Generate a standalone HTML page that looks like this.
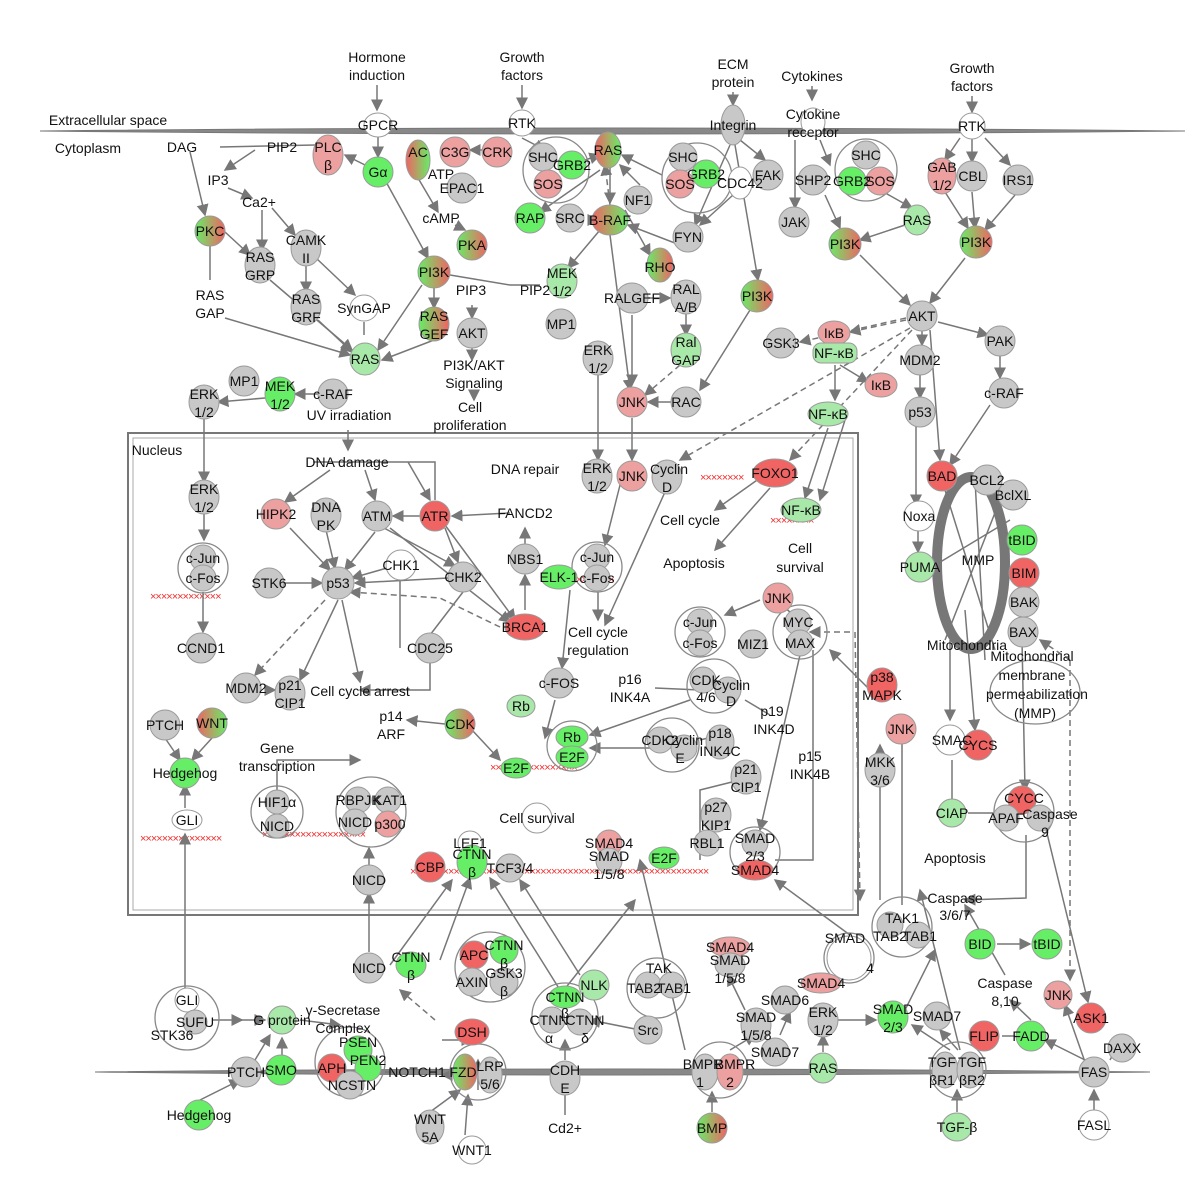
<!DOCTYPE html>
<html><head><meta charset="utf-8"><style>
html,body{margin:0;padding:0;background:#fff}
svg{display:block}
text{font-family:"Liberation Sans",sans-serif;font-size:14px;text-anchor:middle;fill:#111}
text.xx{fill:#f03030;font-size:11px;text-anchor:start;letter-spacing:-1px}
.g{fill:#c8c8c8;stroke:#9a9a9a;stroke-width:1}
.gr{fill:#66ee66;stroke:#9a9a9a}
.lg{fill:#a8e8a8;stroke:#9a9a9a}
.r{fill:#f06464;stroke:#9a9a9a}
.p{fill:#eda0a0;stroke:#9a9a9a}
.w{fill:#fff;stroke:#9a9a9a}
.gd{fill:url(#grd);stroke:#9a9a9a}
.rd{fill:url(#rdg);stroke:#9a9a9a}
.c{fill:none;stroke:#888;stroke-width:1.3}
.l{stroke:#777;stroke-width:1.5;fill:none;marker-end:url(#a)}
.d{stroke:#777;stroke-width:1.5;fill:none;stroke-dasharray:6 4;marker-end:url(#a)}
.t{stroke:#777;stroke-width:1.5;fill:none}
</style></head><body>
<svg width="1200" height="1200" viewBox="0 0 1200 1200" xmlns="http://www.w3.org/2000/svg">
<defs>
<linearGradient id="grd" x1="0" x2="1"><stop offset="0" stop-color="#66ee66"/><stop offset="1" stop-color="#f06464"/></linearGradient>
<linearGradient id="rdg" x1="0" x2="1"><stop offset="0" stop-color="#f06464"/><stop offset="1" stop-color="#66ee66"/></linearGradient>
<marker id="a" markerWidth="8" markerHeight="8" refX="7" refY="4" orient="auto"><path d="M0,0L8,4L0,8z" fill="#777"/></marker>
</defs>
<rect width="1200" height="1200" fill="#fff"/>
<path d="M40,131 Q600,125 1185,131 Q600,137 40,131Z" fill="#888" stroke="#777" stroke-width="1"/>
<path d="M95,1072 Q600,1066 1150,1072 Q600,1078 95,1072Z" fill="#888" stroke="#777"/>
<rect x="128" y="433" width="730" height="482" fill="none" stroke="#777" stroke-width="2"/>
<rect x="133" y="438" width="720" height="472" fill="none" stroke="#aaa" stroke-width="1"/>
<text x="108" y="125">Extracellular space</text>
<text x="88" y="153">Cytoplasm</text>
<text x="157" y="455">Nucleus</text>
<!-- red x lines -->
<text class="xx" x="150" y="600">×××××××××××××</text>
<text class="xx" x="140" y="842">×××××××××××××××</text>
<text class="xx" x="262" y="838">×××××××××××××××××××</text>
<text class="xx" x="490" y="771">××××××××××××××××</text>
<text class="xx" x="410" y="875">×××××××××××××××××××××××××××××××××××××××××××××××××××××××</text>
<text class="xx" x="700" y="481">××××××××</text>
<text class="xx" x="770" y="524">××××××××</text>
<text class="xx" x="565" y="583">×××××××××</text>
<g>
<path class="l" d="M377,85 V110"/><path class="l" d="M522,85 V108"/><path class="l" d="M733,92 V105"/><path class="l" d="M812,86 V100"/><path class="l" d="M972,96 V112"/>
<path class="l" d="M378,136 V157"/><path class="l" d="M365,165 L345,155"/><path class="t" d="M315,145 L220,147"/><path class="l" d="M190,152 L205,215"/>
<path class="l" d="M255,150 L225,170"/><path class="l" d="M228,188 L252,198"/><path class="l" d="M262,210 L262,250"/><path class="l" d="M272,208 L295,235"/>
<path class="l" d="M225,232 L250,255"/><path class="t" d="M210,245 V280"/><path class="l" d="M306,262 V292"/><path class="l" d="M316,258 L355,295"/>
<path class="l" d="M225,318 L350,355"/><path class="l" d="M270,280 L352,350"/><path class="l" d="M318,320 L352,352"/><path class="t" d="M364,322 V335"/>
<path class="l" d="M385,180 L428,258"/><path class="l" d="M422,285 L378,350"/><path class="l" d="M434,340 L382,360"/><path class="l" d="M434,288 V308"/>
<path class="l" d="M472,305 V318"/><path class="l" d="M472,348 V360"/><path class="l" d="M474,392 V400"/><path class="t" d="M450,275 L510,285 L540,285"/>
<path class="l" d="M418,178 L438,212"/><path class="l" d="M455,225 L465,230"/><path class="l" d="M483,150 L470,150"/><path class="l" d="M522,138 L545,150"/>
<path class="l" d="M585,160 L600,155"/><path class="l" d="M600,170 L540,212"/><path class="l" d="M610,165 L610,203"/><path class="d" d="M610,205 L605,165"/>
<path class="l" d="M590,220 L598,220"/><path class="l" d="M610,235 L630,390"/><path class="l" d="M600,230 L568,268"/><path class="l" d="M625,210 L650,255"/>
<path class="l" d="M662,175 L622,155"/><path class="l" d="M730,145 L695,225"/><path class="l" d="M735,145 L758,280"/><path class="l" d="M740,140 L765,160"/>
<path class="l" d="M680,245 L628,225"/><path class="l" d="M640,185 L620,165"/><path class="l" d="M733,195 L700,225"/>
<path class="l" d="M795,140 L795,208"/><path class="l" d="M820,140 L830,165"/><path class="l" d="M825,195 L840,228"/><path class="l" d="M880,190 L912,208"/><path class="l" d="M905,225 L860,240"/>
<path class="l" d="M960,138 L945,160"/><path class="l" d="M972,138 L972,162"/><path class="l" d="M985,138 L1010,165"/><path class="l" d="M945,192 L968,228"/><path class="l" d="M972,192 L975,228"/><path class="l" d="M1015,195 L985,230"/>
<path class="l" d="M860,255 L910,305"/><path class="l" d="M965,258 L930,303"/><path class="l" d="M750,310 L700,390"/><path class="l" d="M632,315 V385"/><path class="l" d="M648,298 L670,298"/>
<path class="l" d="M686,312 V335"/><path class="d" d="M680,365 L645,395"/><path class="l" d="M672,402 L648,402"/><path class="l" d="M598,372 V460"/><path class="l" d="M632,418 V460"/>
<path class="d" d="M906,318 L800,342"/><path class="d" d="M906,320 L850,332"/><path class="d" d="M910,328 L680,460"/><path class="d" d="M912,330 L790,460"/>
<path class="l" d="M922,330 V345"/><path class="l" d="M938,322 L988,335"/><path class="l" d="M1000,356 V378"/><path class="l" d="M990,405 L950,465"/><path class="l" d="M930,330 L940,460"/>
<path class="l" d="M920,375 V398"/><path class="l" d="M835,365 V400"/><path class="l" d="M840,365 L868,382"/><path class="l" d="M828,428 L805,498"/><path class="l" d="M845,420 L820,500"/>
<path class="l" d="M916,425 L916,505"/><path class="l" d="M918,528 V552"/>
<path class="l" d="M318,394 L295,394"/><path class="l" d="M265,398 L218,402"/><path class="l" d="M204,418 V482"/><path class="l" d="M204,512 V540"/><path class="l" d="M203,592 V632"/><path class="l" d="M348,430 V450"/>
<path class="l" d="M330,470 L285,502"/><path class="l" d="M365,470 L375,500"/><path class="l" d="M408,462 L430,500"/><path class="t" d="M313,462 L435,462 V500"/>
<path class="l" d="M290,528 L330,570"/><path class="l" d="M326,530 L335,568"/><path class="l" d="M375,532 L345,570"/><path class="l" d="M420,516 L393,516"/><path class="l" d="M510,513 L452,516"/>
<path class="l" d="M384,528 L455,566"/><path class="l" d="M445,528 L458,562"/><path class="l" d="M445,525 L515,620"/><path class="l" d="M390,528 L510,622"/>
<path class="l" d="M285,583 L322,583"/><path class="l" d="M387,568 L352,578"/><path class="l" d="M448,578 L355,583"/><path class="d" d="M500,627 L440,598 L350,592"/><path class="l" d="M525,610 V575"/><path class="l" d="M525,545 V528"/>
<path class="t" d="M400,580 L400,648"/><path class="t" d="M463,592 L430,635"/><path class="l" d="M430,662 L430,690 L360,690"/>
<path class="l" d="M338,600 L300,680"/><path class="l" d="M342,600 L360,682"/><path class="d" d="M325,600 L255,675"/><path class="l" d="M265,690 L275,690"/>
<path class="l" d="M598,592 V620"/><path class="l" d="M570,590 L562,668"/><path class="l" d="M620,485 L605,545"/><path class="l" d="M665,492 L605,625"/>
<path class="l" d="M760,478 L715,510"/><path class="l" d="M770,488 L715,550"/><path class="l" d="M760,600 L725,615"/><path class="l" d="M785,608 L800,620"/>
<path class="l" d="M445,724 L407,720"/><path class="l" d="M472,730 L500,760"/><path class="l" d="M690,700 L590,735"/><path class="l" d="M658,748 L590,748"/><path class="l" d="M555,700 L545,738"/>
<path class="t" d="M655,688 L700,690"/><path class="t" d="M720,735 L700,740"/><path class="t" d="M740,780 L700,790 L700,860"/><path class="t" d="M770,715 L745,700"/>
<path class="d" d="M850,632 L810,632"/><path class="d" d="M855,632 L860,900"/><path class="l" d="M800,655 L760,830"/><path class="t" d="M813,650 V860 L775,860"/>
<path class="l" d="M880,700 L830,650"/><path class="l" d="M880,755 V745"/><path class="l" d="M902,745 L900,715"/><path class="t" d="M880,785 V900"/><path class="t" d="M902,745 V905"/>
<path class="l" d="M965,610 L975,730"/><path class="l" d="M950,640 V720"/><path class="l" d="M1022,640 L1025,790"/><path class="t" d="M952,760 V800"/><path class="t" d="M968,813 L1000,813"/>
<path class="l" d="M1026,835 V898 L965,900"/><path class="l" d="M1045,825 L1088,1002"/><path class="d" d="M1070,660 V980"/><path class="d" d="M1070,660 L1040,640"/>
<path class="l" d="M185,808 V785"/><path class="l" d="M185,1000 V834"/><path class="l" d="M165,738 L180,760"/><path class="l" d="M212,738 L192,760"/>
<path class="l" d="M277,790 V760 L360,760"/><path class="l" d="M369,865 V848"/><path class="l" d="M369,952 V893"/><path class="l" d="M390,965 L452,880"/><path class="l" d="M440,960 L470,878"/>
<path class="l" d="M560,990 L490,878"/><path class="l" d="M580,975 L520,880"/><path class="l" d="M685,1050 L640,860"/><path class="l" d="M850,935 L775,880"/>
<path class="l" d="M560,995 L635,900"/><path class="d" d="M435,1020 L400,990"/><path class="l" d="M442,1040 L472,1040"/><path class="l" d="M478,1090 V1060"/><path class="l" d="M452,1075 L442,1075"/>
<path class="l" d="M640,1030 L590,1020"/><path class="l" d="M565,1060 V1040"/><path class="t" d="M565,1115 V1095"/><path class="l" d="M712,1112 V1092"/>
<path class="l" d="M730,1050 L755,1035"/><path class="l" d="M780,1035 L790,1012"/><path class="l" d="M745,1010 L728,975"/><path class="l" d="M823,1052 V1035"/><path class="l" d="M838,1020 L876,1020"/>
<path class="l" d="M905,1010 L935,950"/><path class="l" d="M950,1050 L912,1025"/><path class="l" d="M958,1050 L940,1030"/><path class="l" d="M957,1112 V1090"/><path class="l" d="M960,1050 L920,890"/>
<path class="l" d="M997,944 L1030,944"/><path class="l" d="M1005,975 L965,905"/><path class="l" d="M1031,1020 L1010,1000"/><path class="l" d="M1094,1110 V1090"/><path class="l" d="M1085,1060 L1045,1040"/>
<path class="l" d="M1085,1062 L1065,1005"/><path class="l" d="M1110,1060 L1118,1045"/><path class="t" d="M1002,1036 L1015,1036"/><path class="l" d="M240,1020 L265,1020"/><path class="l" d="M300,1020 L340,1025"/>
<path class="l" d="M282,1055 V1038"/><path class="l" d="M255,1060 L270,1035"/><path class="l" d="M212,1020 L242,1020"/><path class="l" d="M200,1100 L240,1080"/>
<path class="t" d="M385,1072 L395,1072"/><path class="l" d="M465,1135 L468,1095"/><path class="l" d="M430,1112 L460,1090"/>
</g>
<ellipse cx="971" cy="563" rx="34" ry="86" fill="none" stroke="#777" stroke-width="10"/>
<path class="t" d="M945,490 L995,650 M1000,500 L945,640 M932,567 L1010,520 M985,660 L975,480"/>
<g class="c">
<circle cx="556" cy="170" r="33"/><circle cx="697" cy="178" r="35"/><circle cx="866" cy="170" r="31"/>
<circle cx="203" cy="568" r="25"/><circle cx="597" cy="567" r="25"/><circle cx="700" cy="632" r="25"/><circle cx="800" cy="632" r="27"/>
<circle cx="714" cy="686" r="27"/><circle cx="572" cy="746" r="25"/><circle cx="672" cy="745" r="27"/>
<circle cx="277" cy="812" r="26"/><circle cx="371" cy="812" r="35"/><circle cx="755" cy="852" r="25"/><circle cx="1024" cy="812" r="30"/>
<circle cx="902" cy="927" r="30"/><circle cx="849" cy="958" r="25"/><circle cx="490" cy="967" r="35"/><circle cx="657" cy="988" r="30"/>
<circle cx="187" cy="1018" r="32"/><circle cx="350" cy="1062" r="35"/><circle cx="478" cy="1072" r="28"/><circle cx="565" cy="1016" r="33"/>
<circle cx="720" cy="1070" r="28"/><circle cx="958" cy="1070" r="28"/><ellipse cx="1035" cy="692" rx="45" ry="32"/>
</g>
<g>
<ellipse class="w" cx="378" cy="125" rx="14" ry="12"/><ellipse class="w" cx="522" cy="123" rx="13" ry="13"/><ellipse class="g" cx="733" cy="125" rx="12" ry="20"/>
<ellipse class="w" cx="813" cy="122" rx="12" ry="14"/><ellipse class="w" cx="972" cy="126" rx="13" ry="13"/>
<ellipse class="p" cx="328" cy="155" rx="15" ry="20"/><circle class="gr" cx="378" cy="172" r="15"/><ellipse class="rd" cx="418" cy="160" rx="12" ry="20"/>
<circle class="p" cx="455" cy="152" r="15"/><circle class="p" cx="497" cy="152" r="15"/><circle class="g" cx="462" cy="188" r="15"/>
<circle class="g" cx="543" cy="157" r="14"/><circle class="gr" cx="572" cy="165" r="14"/><circle class="p" cx="548" cy="184" r="14"/>
<ellipse class="rd" cx="608" cy="150" rx="13" ry="18"/>
<circle class="g" cx="683" cy="157" r="14"/><circle class="gr" cx="706" cy="174" r="14"/><circle class="p" cx="680" cy="184" r="14"/>
<ellipse class="w" cx="740" cy="183" rx="12" ry="16"/><circle class="g" cx="768" cy="175" r="15"/><circle class="g" cx="813" cy="180" r="15"/>
<circle class="g" cx="866" cy="155" r="14"/><circle class="gr" cx="852" cy="181" r="14"/><circle class="p" cx="880" cy="181" r="14"/>
<ellipse class="p" cx="942" cy="176" rx="14" ry="18"/><circle class="g" cx="972" cy="176" r="15"/><circle class="g" cx="1018" cy="180" r="15"/>
<circle class="gd" cx="210" cy="231" r="15"/><ellipse class="g" cx="306" cy="248" rx="15" ry="18"/><ellipse class="g" cx="260" cy="265" rx="15" ry="18"/>
<ellipse class="g" cx="306" cy="307" rx="15" ry="18"/><ellipse class="w" cx="364" cy="308" rx="14" ry="13"/>
<circle class="gr" cx="530" cy="218" r="15"/><circle class="g" cx="570" cy="218" r="14"/><ellipse class="rd" cx="610" cy="220" rx="18" ry="15"/>
<circle class="g" cx="638" cy="200" r="14"/><circle class="g" cx="688" cy="237" r="15"/><ellipse class="gd" cx="660" cy="265" rx="13" ry="17"/><circle class="gd" cx="472" cy="245" r="15"/>
<circle class="g" cx="794" cy="222" r="15"/><circle class="gd" cx="845" cy="244" r="16"/><ellipse class="lg" cx="917" cy="220" rx="13" ry="15"/><circle class="gd" cx="976" cy="242" r="16"/>
<circle class="gd" cx="434" cy="272" r="16"/><ellipse class="lg" cx="562" cy="281" rx="15" ry="17"/><circle class="g" cx="561" cy="324" r="15"/>
<ellipse class="g" cx="632" cy="298" rx="16" ry="15"/><ellipse class="g" cx="686" cy="297" rx="15" ry="17"/><circle class="gd" cx="757" cy="296" r="16"/>
<circle class="g" cx="472" cy="333" r="15"/><ellipse class="gd" cx="434" cy="324" rx="15" ry="17"/><ellipse class="lg" cx="365" cy="359" rx="15" ry="16"/>
<ellipse class="g" cx="598" cy="358" rx="15" ry="17"/><ellipse class="lg" cx="686" cy="350" rx="15" ry="17"/><circle class="p" cx="632" cy="402" r="15"/><circle class="g" cx="686" cy="402" r="15"/>
<circle class="g" cx="781" cy="343" r="15"/><ellipse class="p" cx="834" cy="333" rx="16" ry="12"/><rect class="lg" x="813" y="343" width="44" height="20" rx="8"/>
<circle class="g" cx="922" cy="316" r="15"/><circle class="g" cx="920" cy="360" r="15"/><circle class="g" cx="1000" cy="341" r="15"/>
<ellipse class="p" cx="881" cy="385" rx="16" ry="12"/><ellipse class="lg" cx="828" cy="414" rx="20" ry="12"/><circle class="g" cx="920" cy="412" r="15"/><circle class="g" cx="1004" cy="393" r="15"/>
<circle class="g" cx="244" cy="381" r="15"/><ellipse class="gr" cx="280" cy="394" rx="15" ry="17"/><circle class="g" cx="333" cy="394" r="15"/><ellipse class="g" cx="204" cy="402" rx="15" ry="17"/>
<ellipse class="g" cx="204" cy="497" rx="15" ry="17"/><ellipse class="g" cx="326" cy="515" rx="15" ry="17"/><circle class="g" cx="377" cy="516" r="15"/><circle class="r" cx="435" cy="516" r="15"/>
<circle class="p" cx="276" cy="514" r="15"/><ellipse class="g" cx="597" cy="476" rx="15" ry="17"/><circle class="p" cx="632" cy="476" r="15"/><ellipse class="g" cx="667" cy="477" rx="15" ry="17"/>
<ellipse class="r" cx="775" cy="473" rx="22" ry="14"/><ellipse class="lg" cx="801" cy="510" rx="20" ry="12"/>
<circle class="g" cx="203" cy="558" r="13"/><circle class="g" cx="203" cy="578" r="13"/><circle class="g" cx="269" cy="583" r="15"/><circle class="g" cx="338" cy="583" r="16"/>
<circle class="w" cx="401" cy="565" r="15"/><circle class="g" cx="463" cy="577" r="15"/><circle class="g" cx="525" cy="559" r="15"/><ellipse class="gr" cx="559" cy="577" rx="18" ry="12"/>
<circle class="g" cx="597" cy="557" r="13"/><circle class="g" cx="597" cy="578" r="13"/>
<circle class="r" cx="942" cy="476" r="15"/><circle class="g" cx="987" cy="480" r="15"/><circle class="g" cx="1013" cy="495" r="15"/><circle class="w" cx="919" cy="516" r="15"/>
<circle class="gr" cx="1022" cy="540" r="15"/><circle class="lg" cx="920" cy="567" r="15"/><circle class="r" cx="1024" cy="573" r="15"/><circle class="g" cx="1024" cy="602" r="15"/><circle class="g" cx="1023" cy="632" r="15"/>
<circle class="g" cx="201" cy="648" r="15"/><ellipse class="r" cx="525" cy="627" rx="20" ry="13"/><circle class="g" cx="430" cy="648" r="15"/>
<circle class="p" cx="778" cy="598" r="15"/><circle class="g" cx="700" cy="622" r="13"/><circle class="g" cx="700" cy="643" r="13"/><circle class="g" cx="798" cy="622" r="13"/><circle class="g" cx="800" cy="643" r="13"/><circle class="g" cx="753" cy="644" r="14"/>
<circle class="g" cx="246" cy="688" r="15"/><ellipse class="g" cx="290" cy="693" rx="15" ry="17"/><circle class="g" cx="559" cy="683" r="15"/>
<circle class="g" cx="703" cy="680" r="13"/><circle class="g" cx="728" cy="690" r="13"/><ellipse class="r" cx="882" cy="685" rx="15" ry="17"/>
<circle class="g" cx="165" cy="725" r="15"/><circle class="rd" cx="212" cy="723" r="15"/><circle class="gd" cx="460" cy="724" r="15"/><ellipse class="lg" cx="521" cy="706" rx="14" ry="11"/>
<ellipse class="gr" cx="572" cy="737" rx="16" ry="11"/><ellipse class="gr" cx="572" cy="757" rx="16" ry="11"/><circle class="g" cx="660" cy="740" r="13"/><circle class="g" cx="684" cy="748" r="13"/>
<ellipse class="g" cx="720" cy="742" rx="14" ry="17"/><circle class="p" cx="901" cy="729" r="15"/><circle class="r" cx="978" cy="745" r="15"/><circle class="w" cx="950" cy="740" r="15"/>
<circle class="gr" cx="185" cy="773" r="15"/><ellipse class="gr" cx="516" cy="768" rx="15" ry="10"/><ellipse class="g" cx="746" cy="777" rx="15" ry="17"/><ellipse class="g" cx="880" cy="770" rx="15" ry="17"/>
<ellipse class="w" cx="187" cy="820" rx="15" ry="10"/><circle class="g" cx="277" cy="802" r="12"/><circle class="g" cx="277" cy="826" r="12"/>
<circle class="g" cx="358" cy="800" r="13"/><circle class="g" cx="388" cy="800" r="13"/><circle class="g" cx="355" cy="822" r="13"/><circle class="p" cx="388" cy="824" r="13"/>
<circle class="w" cx="537" cy="818" r="15"/><circle class="p" cx="609" cy="843" r="13"/><circle class="g" cx="609" cy="861" r="13"/><circle class="w" cx="470" cy="843" r="12"/>
<circle class="lg" cx="952" cy="813" r="14"/><circle class="r" cx="1022" cy="800" r="14"/><circle class="g" cx="1006" cy="818" r="13"/><circle class="g" cx="1040" cy="818" r="13"/>
<ellipse class="g" cx="716" cy="815" rx="15" ry="17"/><circle class="g" cx="707" cy="843" r="13"/><circle class="g" cx="755" cy="843" r="13"/><ellipse class="r" cx="755" cy="870" rx="18" ry="10"/>
<ellipse class="gr" cx="664" cy="858" rx="15" ry="11"/><circle class="r" cx="430" cy="867" r="15"/><ellipse class="gr" cx="472" cy="862" rx="15" ry="17"/><circle class="g" cx="510" cy="868" r="14"/><circle class="g" cx="369" cy="880" r="15"/>
<circle class="g" cx="890" cy="925" r="13"/><circle class="g" cx="918" cy="935" r="13"/><circle class="g" cx="369" cy="968" r="15"/><ellipse class="gr" cx="411" cy="965" rx="15" ry="13"/>
<circle class="r" cx="474" cy="955" r="14"/><circle class="gr" cx="504" cy="950" r="14"/><circle class="g" cx="472" cy="982" r="14"/><circle class="g" cx="504" cy="982" r="14"/>
<circle class="lg" cx="594" cy="985" r="15"/><circle class="g" cx="648" cy="985" r="13"/><circle class="g" cx="672" cy="985" r="13"/>
<ellipse class="p" cx="730" cy="947" rx="20" ry="10"/><ellipse class="g" cx="730" cy="965" rx="15" ry="12"/><ellipse class="p" cx="821" cy="983" rx="20" ry="10"/>
<ellipse class="g" cx="823" cy="1020" rx="15" ry="17"/><circle class="g" cx="785" cy="1000" r="14"/><ellipse class="g" cx="756" cy="1025" rx="15" ry="17"/><circle class="g" cx="775" cy="1052" r="14"/>
<ellipse class="gr" cx="893" cy="1017" rx="15" ry="16"/><circle class="g" cx="937" cy="1016" r="14"/><circle class="gr" cx="980" cy="944" r="15"/><circle class="gr" cx="1047" cy="944" r="15"/>
<circle class="p" cx="1058" cy="995" r="14"/><circle class="r" cx="1091" cy="1018" r="15"/><circle class="r" cx="984" cy="1036" r="15"/><circle class="gr" cx="1031" cy="1036" r="15"/>
<circle class="g" cx="1122" cy="1048" r="14"/><circle class="g" cx="1094" cy="1072" r="15"/><circle class="w" cx="1094" cy="1125" r="15"/>
<circle class="w" cx="187" cy="1000" r="12"/><circle class="g" cx="195" cy="1022" r="12"/><circle class="lg" cx="282" cy="1020" r="14"/>
<circle class="gr" cx="358" cy="1050" r="14"/><circle class="r" cx="332" cy="1068" r="14"/><circle class="gr" cx="368" cy="1068" r="13"/><circle class="g" cx="350" cy="1085" r="14"/>
<ellipse class="r" cx="472" cy="1032" rx="17" ry="13"/><ellipse class="gd" cx="465" cy="1072" rx="12" ry="18"/><ellipse class="g" cx="490" cy="1075" rx="12" ry="18"/>
<ellipse class="gr" cx="565" cy="997" rx="16" ry="11"/><circle class="g" cx="552" cy="1020" r="13"/><circle class="g" cx="580" cy="1022" r="13"/><circle class="g" cx="648" cy="1030" r="14"/>
<ellipse class="g" cx="565" cy="1078" rx="15" ry="17"/><ellipse class="g" cx="705" cy="1072" rx="13" ry="18"/><ellipse class="p" cx="730" cy="1072" rx="13" ry="18"/>
<ellipse class="lg" cx="823" cy="1068" rx="14" ry="15"/><ellipse class="g" cx="945" cy="1070" rx="13" ry="18"/><ellipse class="g" cx="970" cy="1070" rx="13" ry="18"/>
<ellipse class="lg" cx="957" cy="1127" rx="15" ry="14"/><circle class="gd" cx="712" cy="1128" r="15"/><circle class="g" cx="246" cy="1072" r="15"/><circle class="gr" cx="281" cy="1070" r="15"/>
<circle class="gr" cx="199" cy="1115" r="15"/><ellipse class="g" cx="430" cy="1127" rx="14" ry="17"/><circle class="w" cx="472" cy="1150" r="14"/><circle class="w" cx="849" cy="958" r="22"/>
</g>
<g>
<text x="377" y="62">Hormone</text><text x="377" y="80">induction</text><text x="522" y="62">Growth</text><text x="522" y="80">factors</text>
<text x="733" y="69">ECM</text><text x="733" y="87">protein</text><text x="812" y="81">Cytokines</text><text x="813" y="119">Cytokine</text><text x="813" y="137">receptor</text>
<text x="972" y="73">Growth</text><text x="972" y="91">factors</text><text x="378" y="130">GPCR</text><text x="522" y="128">RTK</text><text x="733" y="130">Integrin</text><text x="972" y="131">RTK</text>
<text x="182" y="152">DAG</text><text x="282" y="152">PIP2</text><text x="328" y="152">PLC</text><text x="328" y="170">β</text><text x="378" y="177">Gα</text><text x="418" y="157">AC</text>
<text x="455" y="157">C3G</text><text x="497" y="157">CRK</text><text x="441" y="179">ATP</text><text x="462" y="193">EPAC1</text><text x="441" y="223">cAMP</text>
<text x="543" y="162">SHC</text><text x="572" y="170">GRB2</text><text x="548" y="189">SOS</text><text x="608" y="155">RAS</text>
<text x="683" y="162">SHC</text><text x="706" y="179">GRB2</text><text x="680" y="189">SOS</text><text x="740" y="188">CDC42</text><text x="768" y="180">FAK</text>
<text x="813" y="185">SHP2</text><text x="866" y="160">SHC</text><text x="852" y="186">GRB2</text><text x="880" y="186">SOS</text>
<text x="942" y="172">GAB</text><text x="942" y="190">1/2</text><text x="972" y="181">CBL</text><text x="1018" y="185">IRS1</text>
<text x="218" y="185">IP3</text><text x="259" y="207">Ca2+</text><text x="210" y="236">PKC</text><text x="306" y="245">CAMK</text><text x="306" y="263">II</text>
<text x="260" y="262">RAS</text><text x="260" y="280">GRP</text><text x="306" y="304">RAS</text><text x="306" y="322">GRF</text><text x="364" y="313">SynGAP</text><text x="210" y="300">RAS</text><text x="210" y="318">GAP</text>
<text x="530" y="223">RAP</text><text x="570" y="223">SRC</text><text x="610" y="225">B-RAF</text><text x="638" y="205">NF1</text><text x="688" y="242">FYN</text><text x="660" y="272">RHO</text><text x="472" y="250">PKA</text>
<text x="794" y="227">JAK</text><text x="845" y="249">PI3K</text><text x="917" y="225">RAS</text><text x="976" y="247">PI3K</text>
<text x="434" y="277">PI3K</text><text x="562" y="278">MEK</text><text x="562" y="296">1/2</text><text x="471" y="295">PIP3</text><text x="535" y="295">PIP2</text><text x="561" y="329">MP1</text>
<text x="632" y="303">RALGEF</text><text x="686" y="294">RAL</text><text x="686" y="312">A/B</text><text x="757" y="301">PI3K</text>
<text x="472" y="338">AKT</text><text x="434" y="321">RAS</text><text x="434" y="339">GEF</text><text x="365" y="364">RAS</text><text x="474" y="370">PI3K/AKT</text><text x="474" y="388">Signaling</text>
<text x="470" y="412">Cell</text><text x="470" y="430">proliferation</text><text x="598" y="355">ERK</text><text x="598" y="373">1/2</text><text x="686" y="347">Ral</text><text x="686" y="365">GAP</text>
<text x="632" y="407">JNK</text><text x="686" y="407">RAC</text><text x="781" y="348">GSK3</text><text x="834" y="338">IκB</text><text x="834" y="358">NF-κB</text>
<text x="922" y="321">AKT</text><text x="920" y="365">MDM2</text><text x="1000" y="346">PAK</text><text x="881" y="390">IκB</text><text x="828" y="419">NF-κB</text><text x="920" y="417">p53</text><text x="1004" y="398">c-RAF</text>
<text x="244" y="386">MP1</text><text x="280" y="391">MEK</text><text x="280" y="409">1/2</text><text x="333" y="399">c-RAF</text><text x="204" y="399">ERK</text><text x="204" y="417">1/2</text><text x="349" y="420">UV irradiation</text>
<text x="204" y="494">ERK</text><text x="204" y="512">1/2</text><text x="347" y="467">DNA damage</text><text x="326" y="512">DNA</text><text x="326" y="530">PK</text><text x="377" y="521">ATM</text><text x="435" y="521">ATR</text>
<text x="276" y="519">HIPK2</text><text x="525" y="518">FANCD2</text><text x="525" y="474">DNA repair</text><text x="597" y="473">ERK</text><text x="597" y="491">1/2</text><text x="632" y="481">JNK</text>
<text x="669" y="474">Cyclin</text><text x="667" y="492">D</text><text x="775" y="478">FOXO1</text><text x="801" y="515">NF-κB</text><text x="690" y="525">Cell cycle</text><text x="694" y="568">Apoptosis</text>
<text x="800" y="553">Cell</text><text x="800" y="572">survival</text>
<text x="203" y="563">c-Jun</text><text x="203" y="583">c-Fos</text><text x="269" y="588">STK6</text><text x="338" y="588">p53</text><text x="401" y="570">CHK1</text><text x="463" y="582">CHK2</text>
<text x="525" y="564">NBS1</text><text x="559" y="582">ELK-1</text><text x="597" y="562">c-Jun</text><text x="597" y="583">c-Fos</text>
<text x="942" y="481">BAD</text><text x="987" y="485">BCL2</text><text x="1013" y="500">BclXL</text><text x="919" y="521">Noxa</text><text x="1022" y="545">tBID</text><text x="920" y="572">PUMA</text>
<text x="978" y="565">MMP</text><text x="1024" y="578">BIM</text><text x="1024" y="607">BAK</text><text x="1023" y="637">BAX</text><text x="967" y="650">Mitochondria</text>
<text x="1032" y="661">Mitochondrial</text><text x="1032" y="680">membrane</text><text x="1037" y="699">permeabilization</text><text x="1035" y="718">(MMP)</text>
<text x="201" y="653">CCND1</text><text x="525" y="632">BRCA1</text><text x="430" y="653">CDC25</text><text x="598" y="637">Cell cycle</text><text x="598" y="655">regulation</text>
<text x="778" y="603">JNK</text><text x="700" y="627">c-Jun</text><text x="700" y="648">c-Fos</text><text x="798" y="627">MYC</text><text x="800" y="648">MAX</text><text x="753" y="649">MIZ1</text>
<text x="246" y="693">MDM2</text><text x="290" y="690">p21</text><text x="290" y="708">CIP1</text><text x="360" y="696">Cell cycle arrest</text><text x="559" y="688">c-FOS</text>
<text x="630" y="684">p16</text><text x="630" y="702">INK4A</text><text x="706" y="685">CDK</text><text x="706" y="702">4/6</text><text x="731" y="690">Cyclin</text><text x="731" y="706">D</text>
<text x="772" y="716">p19</text><text x="774" y="734">INK4D</text><text x="882" y="682">p38</text><text x="882" y="700">MAPK</text>
<text x="165" y="730">PTCH</text><text x="212" y="728">WNT</text><text x="391" y="721">p14</text><text x="391" y="739">ARF</text><text x="460" y="729">CDK</text><text x="521" y="711">Rb</text>
<text x="572" y="742">Rb</text><text x="572" y="762">E2F</text><text x="660" y="745">CDK2</text><text x="684" y="745">Cyclin</text><text x="680" y="763">E</text><text x="720" y="738">p18</text><text x="720" y="756">INK4C</text>
<text x="901" y="734">JNK</text><text x="978" y="750">CYCS</text><text x="952" y="745">SMAC</text><text x="185" y="778">Hedgehog</text><text x="277" y="753">Gene</text><text x="277" y="771">transcription</text>
<text x="516" y="773">E2F</text><text x="746" y="774">p21</text><text x="746" y="792">CIP1</text><text x="810" y="761">p15</text><text x="810" y="779">INK4B</text><text x="880" y="767">MKK</text><text x="880" y="785">3/6</text>
<text x="187" y="825">GLI</text><text x="277" y="807">HIF1α</text><text x="277" y="831">NICD</text><text x="358" y="805">RBPJK</text><text x="390" y="805">KAT1</text><text x="355" y="827">NICD</text><text x="390" y="829">p300</text>
<text x="537" y="823">Cell survival</text><text x="609" y="848">SMAD4</text><text x="609" y="861">SMAD</text><text x="609" y="879">1/5/8</text><text x="470" y="848">LEF1</text>
<text x="952" y="818">CIAP</text><text x="1024" y="803">CYCC</text><text x="1006" y="823">APAF</text><text x="1050" y="819">Caspase</text><text x="1045" y="837">9</text>
<text x="716" y="812">p27</text><text x="716" y="830">KIP1</text><text x="707" y="848">RBL1</text><text x="755" y="843">SMAD</text><text x="755" y="861">2/3</text><text x="755" y="875">SMAD4</text><text x="664" y="863">E2F</text>
<text x="430" y="872">CBP</text><text x="472" y="859">CTNN</text><text x="472" y="877">β</text><text x="510" y="873">TCF3/4</text><text x="369" y="885">NICD</text>
<text x="955" y="863">Apoptosis</text><text x="955" y="903">Caspase</text><text x="955" y="920">3/6/7</text>
<text x="902" y="923">TAK1</text><text x="890" y="941">TAB2</text><text x="920" y="941">TAB1</text><text x="845" y="943">SMAD</text><text x="870" y="973">4</text>
<text x="369" y="973">NICD</text><text x="411" y="962">CTNN</text><text x="411" y="980">β</text><text x="474" y="960">APC</text><text x="504" y="950">CTNN</text><text x="504" y="968">β</text><text x="472" y="987">AXIN</text><text x="504" y="978">GSK3</text><text x="504" y="996">β</text>
<text x="594" y="990">NLK</text><text x="659" y="973">TAK</text><text x="644" y="993">TAB2</text><text x="674" y="993">TAB1</text>
<text x="730" y="952">SMAD4</text><text x="730" y="965">SMAD</text><text x="730" y="983">1/5/8</text><text x="821" y="988">SMAD4</text><text x="823" y="1017">ERK</text><text x="823" y="1035">1/2</text>
<text x="785" y="1005">SMAD6</text><text x="756" y="1022">SMAD</text><text x="756" y="1040">1/5/8</text><text x="775" y="1057">SMAD7</text><text x="893" y="1014">SMAD</text><text x="893" y="1032">2/3</text><text x="937" y="1021">SMAD7</text>
<text x="980" y="949">BID</text><text x="1047" y="949">tBID</text><text x="1005" y="988">Caspase</text><text x="1005" y="1006">8,10</text><text x="1058" y="1000">JNK</text><text x="1091" y="1023">ASK1</text>
<text x="984" y="1041">FLIP</text><text x="1031" y="1041">FADD</text><text x="1122" y="1053">DAXX</text><text x="1094" y="1077">FAS</text><text x="1094" y="1130">FASL</text>
<text x="187" y="1005">GLI</text><text x="195" y="1027">SUFU</text><text x="172" y="1040">STK36</text><text x="282" y="1025">G protein</text><text x="343" y="1015">γ-Secretase</text><text x="343" y="1033">Complex</text>
<text x="358" y="1047">PSEN</text><text x="368" y="1065">PEN2</text><text x="332" y="1073">APH</text><text x="352" y="1090">NCSTN</text><text x="417" y="1077">NOTCH1</text>
<text x="472" y="1037">DSH</text><text x="463" y="1077">FZD</text><text x="490" y="1071">LRP</text><text x="490" y="1089">5/6</text>
<text x="565" y="1002">CTNN</text><text x="565" y="1018">β</text><text x="549" y="1025">CTNN</text><text x="549" y="1043">α</text><text x="585" y="1025">CTNN</text><text x="585" y="1043">δ</text><text x="648" y="1035">Src</text>
<text x="565" y="1075">CDH</text><text x="565" y="1093">E</text><text x="565" y="1133">Cd2+</text><text x="703" y="1069">BMPR</text><text x="700" y="1087">1</text><text x="735" y="1069">BMPR</text><text x="730" y="1087">2</text>
<text x="823" y="1073">RAS</text><text x="942" y="1067">TGF</text><text x="942" y="1085">βR1</text><text x="972" y="1067">TGF</text><text x="972" y="1085">βR2</text><text x="957" y="1132">TGF-β</text>
<text x="712" y="1133">BMP</text><text x="246" y="1077">PTCH</text><text x="281" y="1075">SMO</text><text x="199" y="1120">Hedgehog</text><text x="430" y="1124">WNT</text><text x="430" y="1142">5A</text><text x="472" y="1155">WNT1</text>
</g>
</svg>
</body></html>
